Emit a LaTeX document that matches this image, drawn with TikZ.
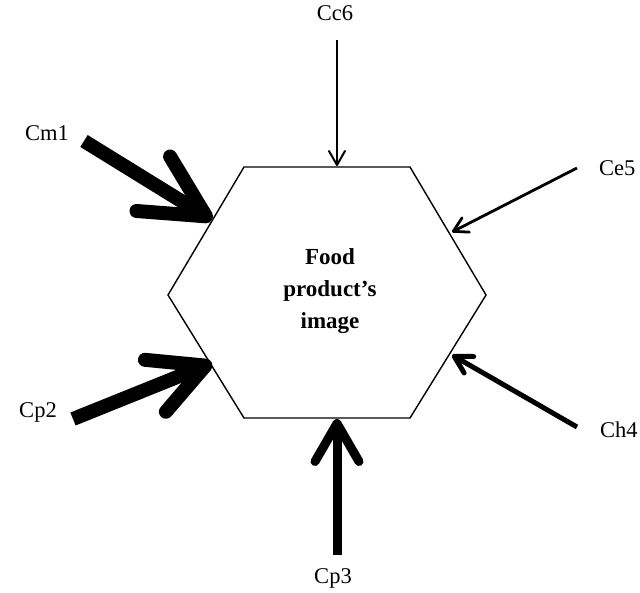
\documentclass[tikz,border=0pt]{standalone}
\usepackage{fontspec}
\setmainfont{Liberation Serif}
\usetikzlibrary{arrows.meta}
\begin{document}
\begin{tikzpicture}[x=1pt,y=-1pt,
  lbl/.style={font=\fontsize{22.5}{26}\selectfont, inner sep=0pt},
  hex/.style={draw=black, line width=1.4pt, line join=miter},
  inarrow/.style n args={3}{line width=#1, line cap=butt,
     -{Straight Barb[length=#2, width=#3, line cap=round, line join=round]}}
]
\useasboundingbox (0,0) rectangle (640,592);
% hexagon
\coordinate (h1) at (244,167);
\coordinate (h2) at (410,167);
\coordinate (h3) at (486,295);
\coordinate (h4) at (410,418);
\coordinate (h5) at (244,418);
\coordinate (h6) at (168,295);
\draw[hex] (h1) -- (h2) -- (h3) -- (h4) -- (h5) -- (h6) -- cycle;
\node[font=\bfseries\fontsize{23}{32}\selectfont, align=center, inner sep=0pt] (center) at (330,291) {Food\\product’s\\image};
% arrow endpoints
\coordinate (m1s) at (84,141);  \coordinate (m1t) at (212,220);
\coordinate (p2s) at (73,419);  \coordinate (p2t) at (212,363);
\coordinate (p3s) at (337,555); \coordinate (p3t) at (337,419);
\coordinate (h4s) at (577,427); \coordinate (h4t) at (452,355);
\coordinate (e5s) at (577,168); \coordinate (e5t) at (452,232);
\coordinate (c6s) at (337,40);  \coordinate (c6t) at (337,166);
\draw[inarrow={14pt}{62pt}{64pt}] (m1s) -- (m1t);
\draw[inarrow={14pt}{54pt}{56pt}] (p2s) -- (p2t);
\draw[inarrow={9pt}{38pt}{44pt}] (p3s) -- (p3t);
\draw[inarrow={5pt}{17pt}{19pt}] (h4s) -- (h4t);
\draw[inarrow={2.8pt}{14pt}{16pt}] (e5s) -- (e5t);
\draw[inarrow={2pt}{14pt}{16pt}] (c6s) -- (c6t);
% labels
\node[lbl] (cm1) at (47,133) {Cm1};
\node[lbl] (cp2) at (38,412) {Cp2};
\node[lbl] (cp3) at (333,578) {Cp3};
\node[lbl, anchor=west] (ce5) at (599,168) {Ce5};
\node[lbl, anchor=west] (ch4) at (600,430) {Ch4};
\node[lbl] (cc6) at (335,13) {Cc6};
\end{tikzpicture}
\end{document}
